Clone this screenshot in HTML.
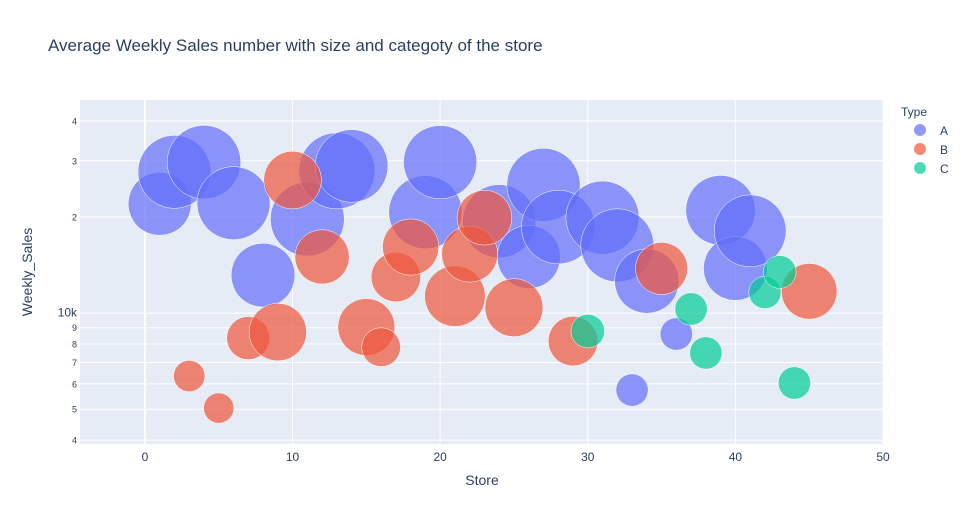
<!DOCTYPE html>
<html><head><meta charset="utf-8">
<style>
body{margin:0;background:#fff;font-family:"Liberation Sans",sans-serif;}
svg text{font-family:"Liberation Sans",sans-serif;}
</style></head>
<body>
<svg id="chart" width="967" height="525" xmlns="http://www.w3.org/2000/svg">
<rect x="0" y="0" width="967" height="525" fill="#fff"/>
<text x="48" y="51" font-size="17" fill="#2a3f5f">Average Weekly Sales number with size and categoty of the store</text>
<rect x="80" y="100" width="803" height="344" fill="#e5ecf6"/>
<g id="grid"></g>
<g id="marks"></g>
<g id="ticks"></g>
<text x="482" y="485" font-size="14" fill="#2a3f5f" text-anchor="middle">Store</text>
<text x="0" y="0" font-size="14" fill="#2a3f5f" text-anchor="middle" transform="translate(32,272) rotate(-90)">Weekly_Sales</text>
<g>
<text x="901" y="116" font-size="12" fill="#2a3f5f">Type</text>
<g><circle cx="920" cy="130" r="6" fill="#636efa" fill-opacity="0.7"/><text x="940" y="135" font-size="12" fill="#2a3f5f">A</text></g>
<g><circle cx="920" cy="149" r="6" fill="#EF553B" fill-opacity="0.7"/><text x="940" y="154" font-size="12" fill="#2a3f5f">B</text></g>
<g><circle cx="920" cy="168" r="6" fill="#00cc96" fill-opacity="0.7"/><text x="940" y="173" font-size="12" fill="#2a3f5f">C</text></g>
</g>
</svg>
<script>
const stores=[1,2,3,4,5,6,7,8,9,10,11,12,13,14,15,16,17,18,19,20,21,22,23,24,25,26,27,28,29,30,31,32,33,34,35,36,37,38,39,40,41,42,43,44,45];
const types=["A","A","B","A","B","A","B","A","B","B","A","B","A","A","B","B","B","B","A","A","B","B","B","A","B","A","A","A","B","C","A","A","A","A","B","A","C","C","A","A","A","C","C","C","B"];
const storeSizes=[151315,202307,37392,205863,34875,202505,70713,155078,125833,126512,207499,112238,219622,200898,123737,57197,93188,120653,203819,203742,140167,119557,114533,203819,128107,152513,204184,206302,93638,42988,203750,203007,39690,158114,103681,39910,39910,39690,184109,155083,196321,39690,41062,39910,118221];
const weeklySales=[22000,27700,6350,29700,5040,22100,8350,13150,8720,26100,19700,15000,27900,28900,9040,7820,12970,16100,20700,29700,11300,15300,19900,19400,10400,15000,25200,18600,8170,8780,19900,16300,5740,12600,13800,8600,10300,7500,21000,13800,18100,11600,13450,6040,11700];
const xTicks=[0,10,20,30,40,50];
const yTicks=[4000,5000,6000,7000,8000,9000,10000,20000,30000,40000];
const yTickLabels=["4","5","6","7","8","9","10k","2","3","4"];
const colors={A:"#636efa",B:"#EF553B",C:"#00cc96"};
const NS="http://www.w3.org/2000/svg";
const L=80,R=883,T=100,B=444,xmin=-4.4,xmax=50;
const ymin=Math.log10(3890),ymax=Math.log10(46500);
const xS=v=>L+(v-xmin)/(xmax-xmin)*(R-L);
const yS=v=>B-(Math.log10(v)-ymin)/(ymax-ymin)*(B-T);
const maxSize=Math.max(...storeSizes);
const rS=s=>38*Math.sqrt(s/maxSize);
const grid=document.getElementById('grid'),ticks=document.getElementById('ticks'),marks=document.getElementById('marks');
function mk(tag,attrs,parent){const e=document.createElementNS(NS,tag);for(const k in attrs)e.setAttribute(k,attrs[k]);parent.appendChild(e);return e;}
xTicks.forEach(t=>{
  const x=xS(t);
  const g=mk('line',{x1:x,x2:x,y1:T,y2:B,stroke:'#fff','stroke-width':t===0?2:1},grid);
  
  
  const tx=mk('text',{x:x,y:B+17,'font-size':12,fill:'#2a3f5f','text-anchor':'middle'},ticks);
  tx.textContent=t;
  
  
});
yTicks.forEach((t,i)=>{
  const y=yS(t);
  const g=mk('line',{x1:L,x2:R,y1:y,y2:y,stroke:'#fff','stroke-width':1},grid);
  
  
  const lbl=yTickLabels[i];
  const tx=mk('text',{x:L-3,y:y+3.5,'font-size':lbl==="10k"?12:9,fill:'#2a3f5f','text-anchor':'end'},ticks);
  tx.textContent=lbl;
  
  
});
["A","B","C"].forEach(tp=>{
  stores.forEach((s,i)=>{
    if(types[i]!==tp)return;
    const c=mk('circle',{cx:xS(s),cy:yS(weeklySales[i]),r:rS(storeSizes[i]),fill:colors[tp],'fill-opacity':0.7,stroke:'#fff','stroke-width':0.5},marks);
    
    
  });
});
</script>
</body></html>
